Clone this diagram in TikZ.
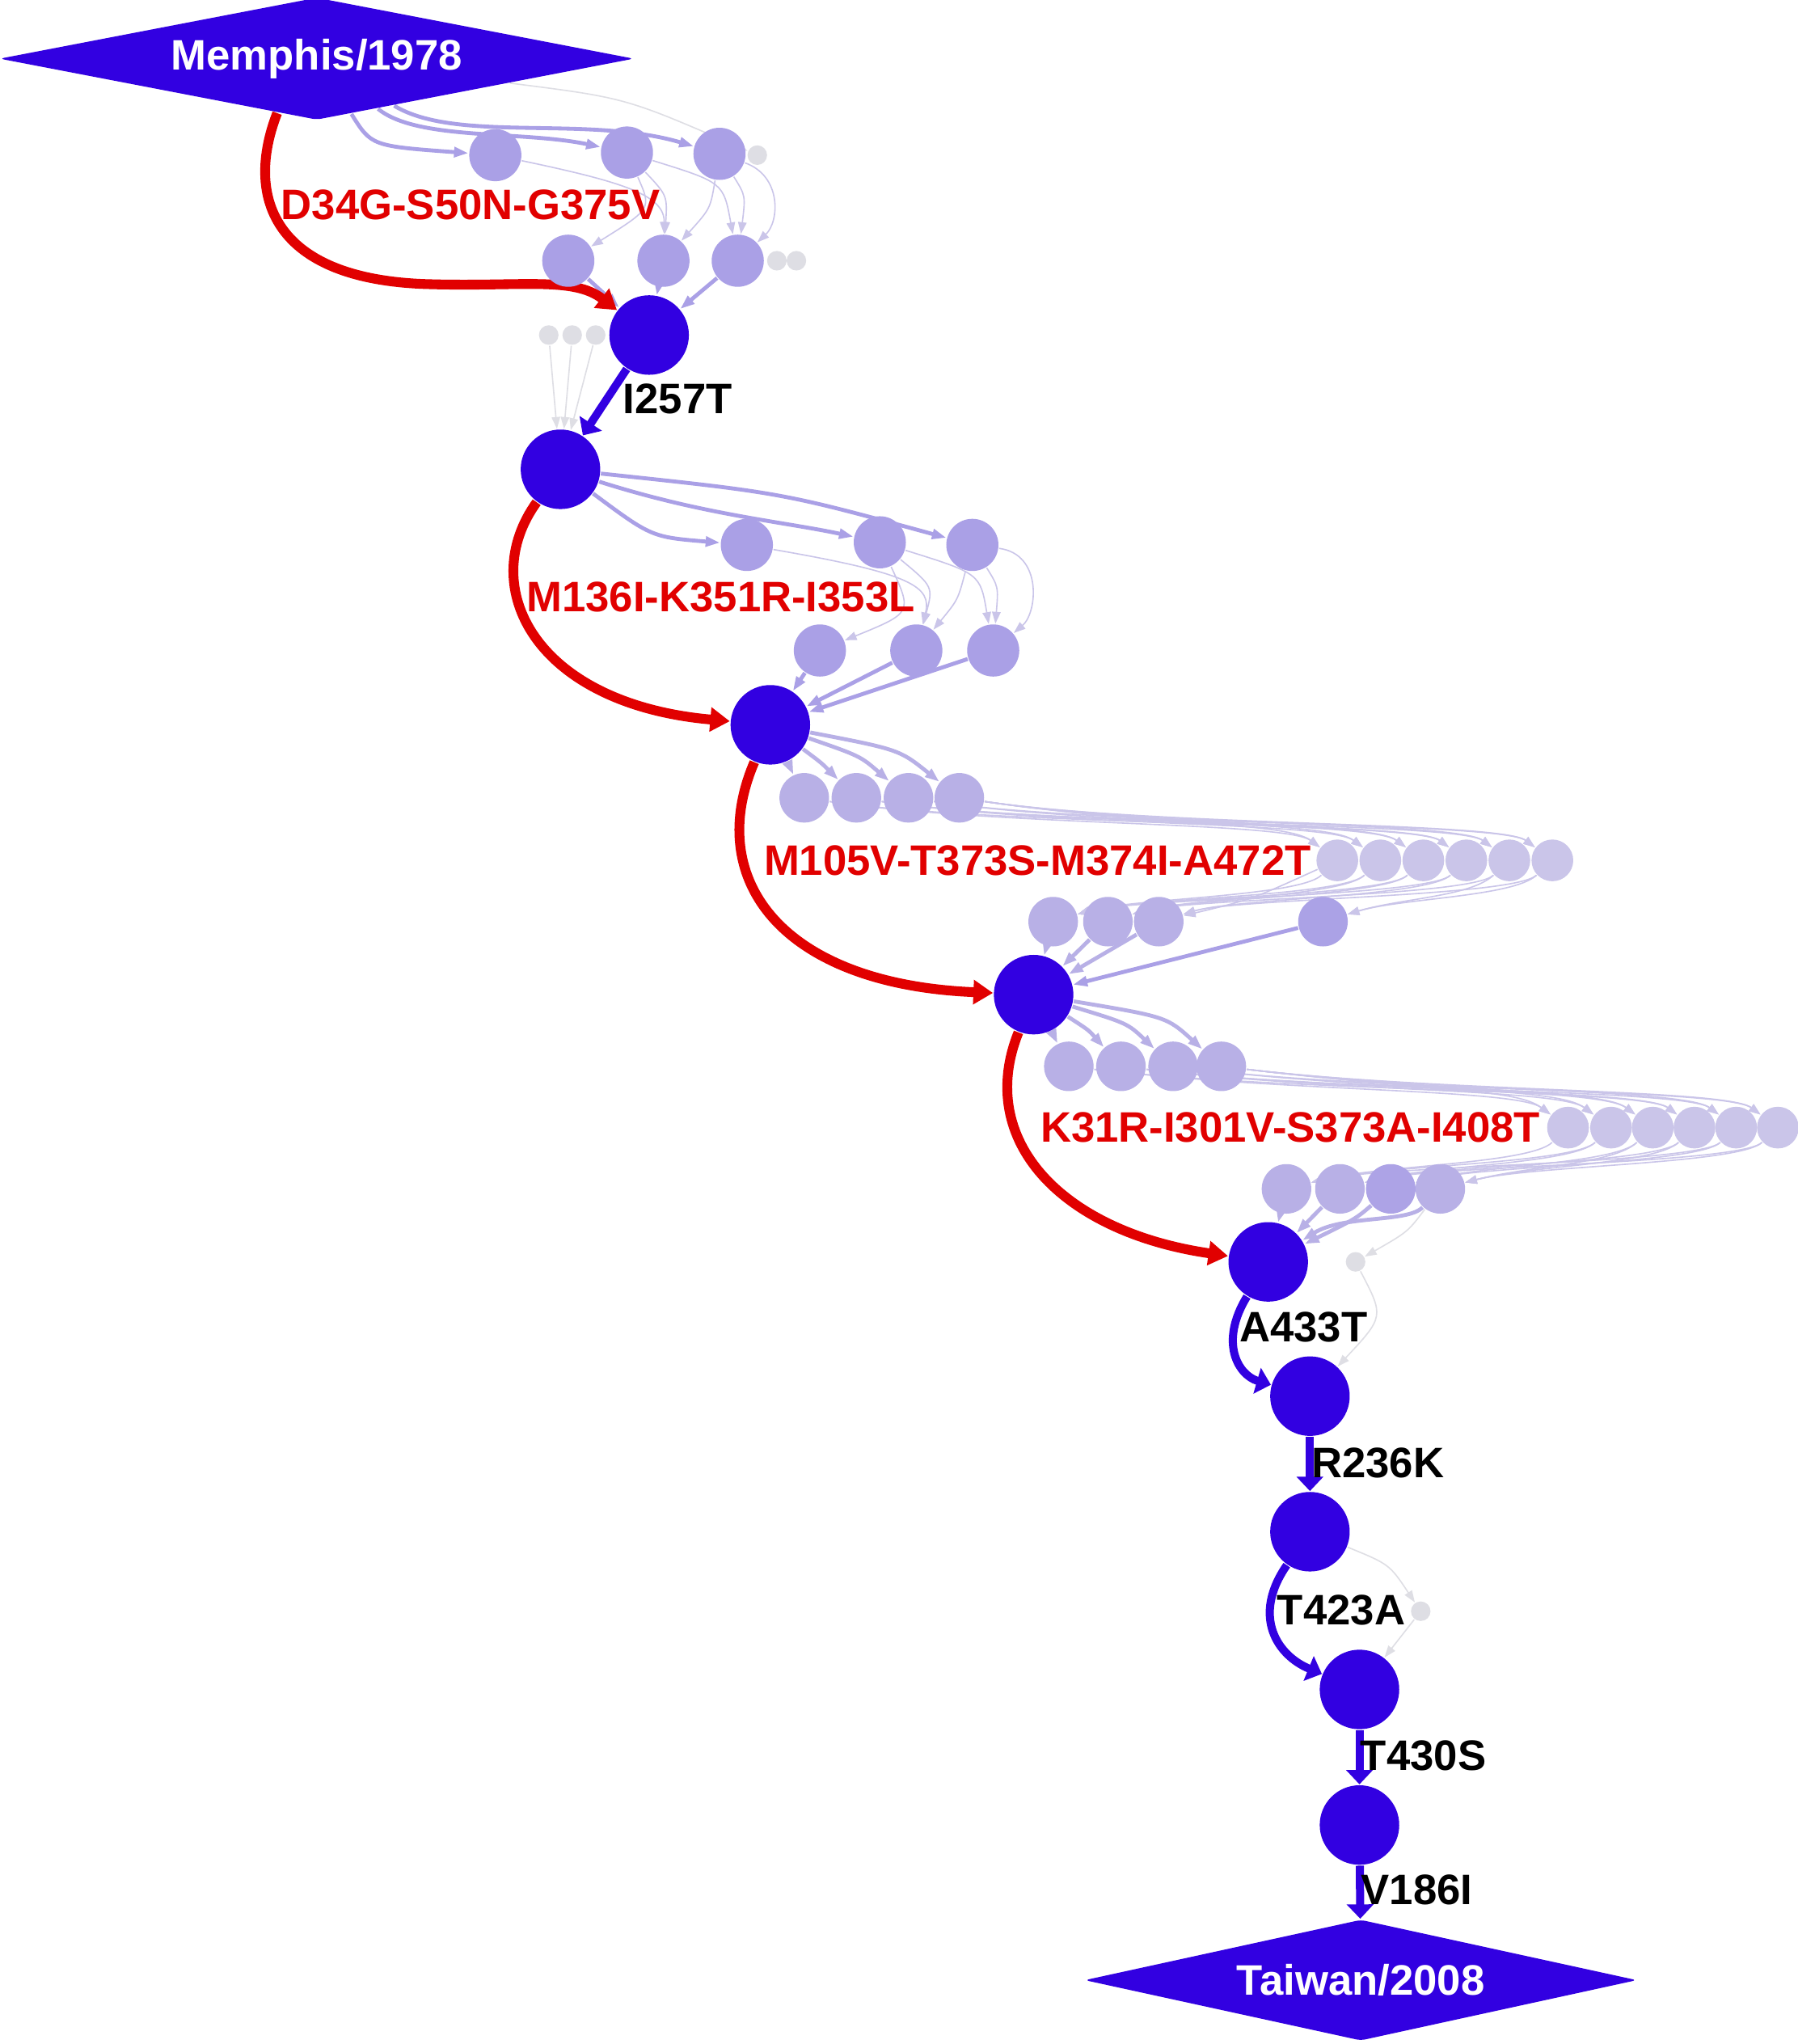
\documentclass[tikz,border=0pt]{standalone}
\usepackage{fontspec}
\setmainfont{Liberation Sans}
\usetikzlibrary{arrows.meta,shapes.geometric,backgrounds}

\definecolor{mainblue}{RGB}{50,0,225}
\definecolor{pathred}{RGB}{225,0,0}
\definecolor{lavA}{RGB}{170,160,230}
\definecolor{lavB}{RGB}{184,176,230}
\definecolor{lavC}{RGB}{202,197,233}
\definecolor{dotgray}{RGB}{222,222,228}

\tikzset{
	main/.style={circle, fill=mainblue, minimum size=6.1mm, inner sep=0pt},
	sub/.style={circle, fill=lavA, minimum size=4mm, inner sep=0pt},
	subb/.style={circle, fill=lavB, minimum size=3.8mm, inner sep=0pt},
	subc/.style={circle, fill=lavC, minimum size=3.2mm, inner sep=0pt},
	dot/.style={circle, fill=dotgray, minimum size=1.5mm, inner sep=0pt},
	strain/.style={diamond, aspect=5, fill=mainblue, text=white, inner sep=0pt, rounded corners=1pt, font=\bfseries\fontsize{9.3}{11}\selectfont},
	mut/.style={font=\bfseries\fontsize{9.3}{11}\selectfont, text=black, inner sep=0pt},
	hot/.style={mut, text=pathred},
	redpath/.style={draw=pathred, line width=0.75mm, -{Triangle[length=1.5mm,width=1.8mm]}},
	bluepath/.style={draw=mainblue, line width=0.62mm, -{Triangle[length=1.1mm,width=2mm]}},
	weak/.style={draw=lavA, line width=0.3mm, -{Triangle[length=1.1mm,width=0.75mm]}},
	weakb/.style={weak, draw=lavB},
	faint/.style={draw=lavC, line width=0.1mm, -{Triangle[length=0.9mm,width=0.65mm]}},
	ghost/.style={draw=dotgray, line width=0.1mm, -{Triangle[length=0.9mm,width=0.65mm]}}
}

\begin{document}
\begin{tikzpicture}[x=0.1mm,y=-0.1mm]
			%%%%% FRAME %%%%%
			\useasboundingbox (0,0) rectangle (1379,1568);
			
			%%%%% STRAINS %%%%%
			\node[strain, minimum width=48.7mm, minimum height=9.4mm] (mem) at (243,45) {Memphis/1978};
			\node[strain, minimum width=42.4mm, minimum height=9.3mm] (tai) at (1044,1519) {Taiwan/2008};
			
			%%%%% MAIN LINE %%%%%
			\node[main] (s1) at (498,257) {};
			\node[main] (s2) at (430,360) {};
			\node[main] (s3) at (591,556) {};
			\node[main] (s4) at (793,763) {};
			\node[main] (s5) at (973,968) {};
			\node[main] (s6) at (1005,1071) {};
			\node[main] (s7) at (1005,1175) {};
			\node[main] (s8) at (1043,1296) {};
			\node[main] (s9) at (1043,1400) {};
			
			%%%%% SIDE NODES %%%%%
			\node[sub] (u1) at (380,119) {};
			\node[sub] (u2) at (481,117) {};
			\node[sub] (u3) at (552,118) {};
			\node[sub] (l1) at (436,200) {};
			\node[sub] (l2) at (509,200) {};
			\node[sub] (l3) at (566,200) {};
			
			\node[sub] (v1) at (573,418) {};
			\node[sub] (v2) at (675,416) {};
			\node[sub] (v3) at (746,418) {};
			\node[sub] (w1) at (629,499) {};
			\node[sub] (w2) at (703,499) {};
			\node[sub] (w3) at (762,499) {};
			
			\node[subb] (c1) at (617,612) {};
			\node[subb] (c2) at (657,612) {};
			\node[subb] (c3) at (697,612) {};
			\node[subb] (c4) at (736,612) {};
			\node[subc] (e1) at (1026,660) {};
			\node[subc] (e2) at (1059,660) {};
			\node[subc] (e3) at (1092,660) {};
			\node[subc] (e4) at (1125,660) {};
			\node[subc] (e5) at (1158,660) {};
			\node[subc] (e6) at (1191,660) {};
			\node[subb] (d1) at (808,707) {};
			\node[subb] (d2) at (850,707) {};
			\node[subb] (d3) at (889,707) {};
			\node[subb, fill=lavA!90!lavB] (d4) at (1015,707) {};
			
			\node[subb] (f1) at (820,818) {};
			\node[subb] (f2) at (860,818) {};
			\node[subb] (f3) at (900,818) {};
			\node[subb] (f4) at (937,818) {};
			\node[subc] (g1) at (1203,865) {};
			\node[subc] (g2) at (1236,865) {};
			\node[subc] (g3) at (1268,865) {};
			\node[subc] (g4) at (1300,865) {};
			\node[subc] (g5) at (1332,865) {};
			\node[subc] (g6) at (1364,865) {};
			\node[subb] (h1) at (987,912) {};
			\node[subb] (h2) at (1028,912) {};
			\node[subb, fill=lavA!80!lavB] (h3) at (1067,912) {};
			\node[subb] (h4) at (1105,912) {};
			
			\node[dot] (o1) at (581,119) {};
			\node[dot] (o2) at (596,200) {};
			\node[dot] (o3) at (611,200) {};
			\node[dot] (o4) at (421,257) {};
			\node[dot] (o5) at (439,257) {};
			\node[dot] (o6) at (457,257) {};
			\node[dot] (o7) at (1040,968) {};
			\node[dot] (o8) at (1090,1236) {};
			
			%%%%% LABELS %%%%%
			\node[hot] (r1) at (361,157) {D34G-S50N-G375V};
			\node[mut] (m1) at (520,306) {I257T};
			\node[hot] (r2) at (553,458) {M136I-K351R-I353L};
			\node[hot] (r3) at (796,660) {M105V-T373S-M374I-A472T};
			\node[hot] (r4) at (990,865) {K31R-I301V-S373A-I408T};
			\node[mut] (m2) at (1000,1018) {A433T};
			\node[mut] (m3) at (1057,1122) {R236K};
			\node[mut] (m4) at (1029,1235) {T423A};
			\node[mut] (m5) at (1092,1347) {T430S};
			\node[mut] (m6) at (1087,1450) {V186I};
			
			\begin{scope}[on background layer]
			\fill[white] (0,0) rectangle (1379,1568);
			
			%%%%% FIRST LOOP %%%%%
			\draw[weak] (mem) .. controls (285,112) .. (u1);
			\draw[weak] (mem) .. controls (320,108) and (400,100) .. (u2);
			\draw[weak] (mem) .. controls (350,110) and (450,88) .. (u3);
			\draw[ghost] (mem) .. controls (480,75) .. (o1);
			\draw[faint] (u1) .. controls (480,140) and (510,150) .. (l2);
			\draw[faint] (u2) .. controls (500,160) .. (l1);
			\draw[faint] (u2) .. controls (512,150) .. (l2);
			\draw[faint] (u2) .. controls (555,140) .. (l3);
			\draw[faint] (u3) .. controls (545,160) .. (l2);
			\draw[faint] (u3) .. controls (572,150) .. (l3);
			\draw[faint] (u3) .. controls (600,135) and (598,170) .. (l3);
			\draw[weak] (l1) -- (s1);
			\draw[weak] (l2) -- (s1);
			\draw[weak] (l3) -- (s1);
			\draw[ghost] (o4) -- (s2);
			\draw[ghost] (o5) -- (s2);
			\draw[ghost] (o6) -- (s2);
			
			%%%%% SECOND LOOP %%%%%
			\draw[weak] (s2) .. controls (500,412) .. (v1);
			\draw[weak] (s2) .. controls (540,395) and (600,400) .. (v2);
			\draw[weak] (s2) .. controls (600,378) .. (v3);
			\draw[faint] (v1) .. controls (700,440) and (715,450) .. (w2);
			\draw[faint] (v2) .. controls (700,470) .. (w1);
			\draw[faint] (v2) .. controls (716,450) .. (w2);
			\draw[faint] (v2) .. controls (752,440) .. (w3);
			\draw[faint] (v3) .. controls (735,460) .. (w2);
			\draw[faint] (v3) .. controls (766,450) .. (w3);
			\draw[faint] (v3) .. controls (800,425) and (796,470) .. (w3);
			\draw[weak] (w1) -- (s3);
			\draw[weak] (w2) -- (s3);
			\draw[weak] (w3) -- (s3);
			
			%%%%% THIRD LOOP %%%%%
			\draw[weakb] (s3) -- (c1);
			\draw[weakb] (s3) .. controls (630,585) .. (c2);
			\draw[weakb] (s3) .. controls (660,580) .. (c3);
			\draw[weakb] (s3) .. controls (690,575) .. (c4);
			\foreach \a/\b in {c1/e1, c1/e4, c2/e2, c2/e5, c3/e3, c3/e6, c4/e1, c4/e2, c4/e3, c4/e5, c4/e6, c2/e4}
				\draw[faint] (\a) .. controls +(150,22) and +(-40,-30) .. (\b);
			\foreach \a/\b in {e1/d1, e2/d1, e2/d2, e3/d2, e4/d3, e4/d1, e5/d2, e5/d4, e6/d3, e6/d4, e3/d1}
				\draw[faint] (\a) .. controls +(-30,28) and +(60,-18) .. (\b);
			\draw[faint] (e1) .. controls (960,690) .. (d3);
			\draw[weakb] (d1) -- (s4);
			\draw[weakb] (d2) -- (s4);
			\draw[weakb] (d3) -- (s4);
			\draw[weak] (d4) -- (s4);
			
			%%%%% FOURTH LOOP %%%%%
			\draw[weakb] (s4) -- (f1);
			\draw[weakb] (s4) .. controls (835,790) .. (f2);
			\draw[weakb] (s4) .. controls (865,785) .. (f3);
			\draw[weakb] (s4) .. controls (895,780) .. (f4);
			\foreach \a/\b in {f1/g1, f1/g4, f2/g2, f2/g5, f3/g3, f3/g6, f4/g1, f4/g2, f4/g3, f4/g5, f4/g6, f2/g4}
				\draw[faint] (\a) .. controls +(170,20) and +(-40,-30) .. (\b);
			\foreach \a/\b in {g1/h1, g2/h1, g2/h2, g3/h3, g4/h2, g4/h4, g5/h3, g5/h1, g6/h4, g6/h2, g3/h4}
				\draw[faint] (\a) .. controls +(-30,28) and +(70,-18) .. (\b);
			\draw[weakb] (h1) -- (s5);
			\draw[weakb] (h2) -- (s5);
			\draw[weakb] (h3) .. controls (1040,935) .. (s5);
			\draw[weakb] (h4) .. controls (1080,938) and (1030,932) .. (s5);
			\draw[ghost] (h4) .. controls (1080,945) .. (o7);
			\draw[ghost] (o7) .. controls (1062,1010) .. (s6);
			\draw[ghost] (s7) .. controls (1066,1200) .. (o8);
			\draw[ghost] (o8) -- (s8);
			
			%%%%% MAIN PATH %%%%%
			\draw[redpath] (mem.234) .. controls (188,150) and (208,215) .. (330,218) .. controls (400,220) and (440,212) .. (s1);
			\draw[bluepath] (s1) -- (s2);
			\draw[redpath] (s2) .. controls (365,450) and (410,540) .. (s3);
			\draw[redpath] (s3) .. controls (540,675) and (600,755) .. (s4);
			\draw[redpath] (s4) .. controls (748,875) and (815,945) .. (s5);
			\draw[bluepath] (s5) .. controls (935,1030) and (950,1055) .. (s6);
			\draw[bluepath] (s6) -- (s7);
			\draw[bluepath] (s7) .. controls (960,1240) and (980,1270) .. (s8);
			\draw[bluepath] (s8) -- (s9);
			\draw[bluepath] (s9) -- (tai);
			\end{scope}
			
\end{tikzpicture}
\end{document}
